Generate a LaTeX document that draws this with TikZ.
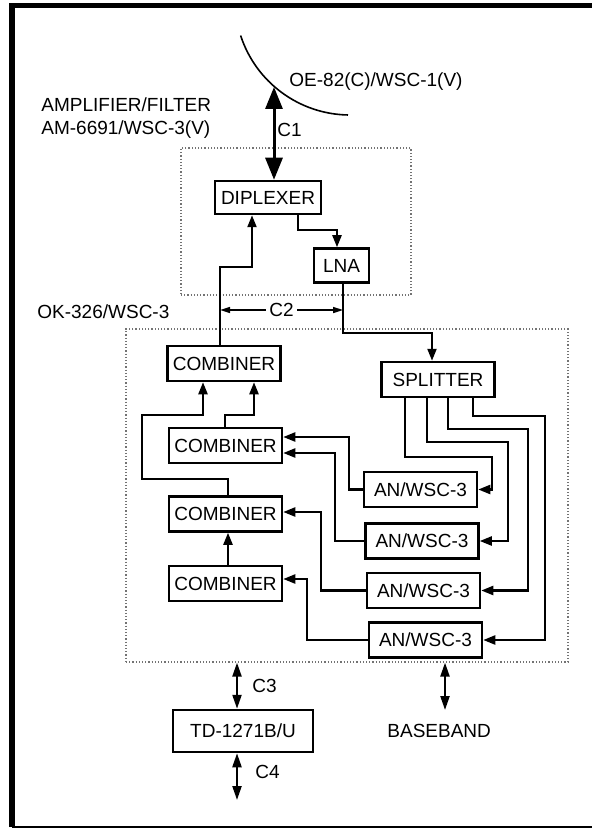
\documentclass[tikz,border=0pt]{standalone}
\usepackage{fontspec}
\setmainfont{Liberation Sans}
\usepackage{tikz}
\usetikzlibrary{arrows.meta, positioning}
\newcommand{\dgfont}{\fontsize{9.5}{11.5}\selectfont}
\tikzset{
  unit/.style={draw, line width=1.25pt, inner sep=0pt, minimum width=56.5pt, minimum height=17.5pt, font=\dgfont},
  zone/.style={draw=black!55, densely dotted, line width=0.6pt, inner sep=0pt},
  tag/.style={font=\dgfont, inner sep=0pt, anchor=west, align=left},
  sig/.style={line width=1.1pt, -{Triangle[length=6pt, width=4.5pt]}},
  feed/.style={line width=1.5pt, {Triangle[length=11pt, width=8.5pt]}-{Triangle[length=11pt, width=8.5pt]}},
  cable/.style={line width=1.1pt, {Triangle[length=7pt, width=4.5pt]}-{Triangle[length=7pt, width=4.5pt]}},
  span/.style={line width=0.8pt, {Triangle[length=5pt, width=3pt]}-{Triangle[length=5pt, width=3pt]}},
  outline/.style={line width=2.75pt}
}
\begin{document}
\begin{tikzpicture}[x=0.5pt, y=-0.5pt, node distance=6pt]
  \useasboundingbox (0,0) rectangle (592,828);
  \draw[outline] (12,827) -- (12,5.5) -- (592,5.5);
  \draw[line width=1pt] (12,826.5) -- (592,826.5);

  \draw[line width=0.8pt] (350,0) ++(162:115) arc[start angle=162, end angle=91, radius=115];
  \coordinate (feedpt) at (274,87);
  \node[tag] (oe) at (289,82) {OE-82(C)/WSC-1(V)};
  \node[tag] (ampname) at (41,118.5) {AMPLIFIER/FILTER\\AM-6691/WSC-3(V)};
  \node[tag] (okname) at (37,312) {OK-326/WSC-3};

  \node[zone, minimum width=115pt, minimum height=73.5pt] (amp) at (296,221.5) {};
  \node[zone, minimum width=221pt, minimum height=166.5pt] (ok) at (347,495.5) {};

  \node[unit, minimum width=53pt, minimum height=16.5pt] (dip) at (268,197.5) {DIPLEXER};
  \node[unit, minimum width=27.5pt, minimum height=17pt] (lna) at (341.5,265.5) {LNA};
  \node[unit] (comb1) at (224,363.5) {COMBINER};
  \node[unit] (comb2) at (225.5,445.5) {COMBINER};
  \node[unit, below=15.5pt of comb2] (comb3) {COMBINER};
  \node[unit, below=16pt of comb3] (comb4) {COMBINER};
  \node[unit] (spl) at (438,379.5) {SPLITTER};
  \node[unit] (an1) at (420.5,489.5) {AN/WSC-3};
  \node[unit, below=7pt of an1, xshift=0.75pt] (an2) {AN/WSC-3};
  \node[unit, below=6pt of an2, xshift=0.75pt] (an3) {AN/WSC-3};
  \node[unit, below=6pt of an3, xshift=1pt] (an4) {AN/WSC-3};
  \node[unit, minimum width=70pt, minimum height=21pt] (td) at (243,731) {TD-1271B/U};
  \node[tag] (bb) at (387,731) {BASEBAND};
  \coordinate (bbend) at (445,710);
  \coordinate (c4end) at (237,800);
  \coordinate (c2l) at (220,310);
  \coordinate (c2r) at (343,310);

  \draw[feed] (feedpt) -- (feedpt |- dip.north);
  \node[tag] (c1) at (277,130) {C1};
  \draw[sig] (298,0 |- dip.south) |- (337,230) -- (337,0 |- lna.north);
  \draw[sig] (220,0 |- comb1.north) -- (220,267) -| (252,0 |- dip.south);
  \draw[sig] (343,0 |- lna.south) |- (432,333) -- (432,0 |- spl.north);
  \draw[span] (c2l) -- node[fill=white, inner sep=1.5pt, font=\dgfont] (c2) {C2} (c2r);

  \draw[sig] (228,0 |- comb3.north) |- (142,479) |- (203,415) -- (203,0 |- comb1.south);
  \draw[sig] (225,0 |- comb2.north) |- (254,415) -- (254,0 |- comb1.south);
  \draw[sig] (228,0 |- comb4.north) -- (228,0 |- comb3.south);
  \draw[sig] (an1.west) -| (349,437) -- (comb2.east |- 0,437);
  \draw[sig] (an2.west) -| (335,453) -- (comb2.east |- 0,453);
  \draw[sig] (an3.west) -| (321,512) -- (comb3.east |- 0,512);
  \draw[sig] (an4.west) -| (307,579) -- (comb4.east |- 0,579);

  \draw[sig] (405,0 |- spl.south) |- (492,457) |- (an1.east);
  \draw[sig] (427,0 |- spl.south) |- (508,442) |- (an2.east);
  \draw[sig] (448,0 |- spl.south) |- (528,429) |- (an3.east);
  \draw[sig] (473,0 |- spl.south) |- (545,416) |- (an4.east);

  \draw[cable] (237,0 |- ok.south) -- (237,0 |- td.north);
  \node[tag] (c3) at (252,686) {C3};
  \draw[cable] (237,0 |- td.south) -- (c4end);
  \node[tag] (c4) at (255,772) {C4};
  \draw[cable] (445,0 |- ok.south) -- (bbend);
\end{tikzpicture}
\end{document}
